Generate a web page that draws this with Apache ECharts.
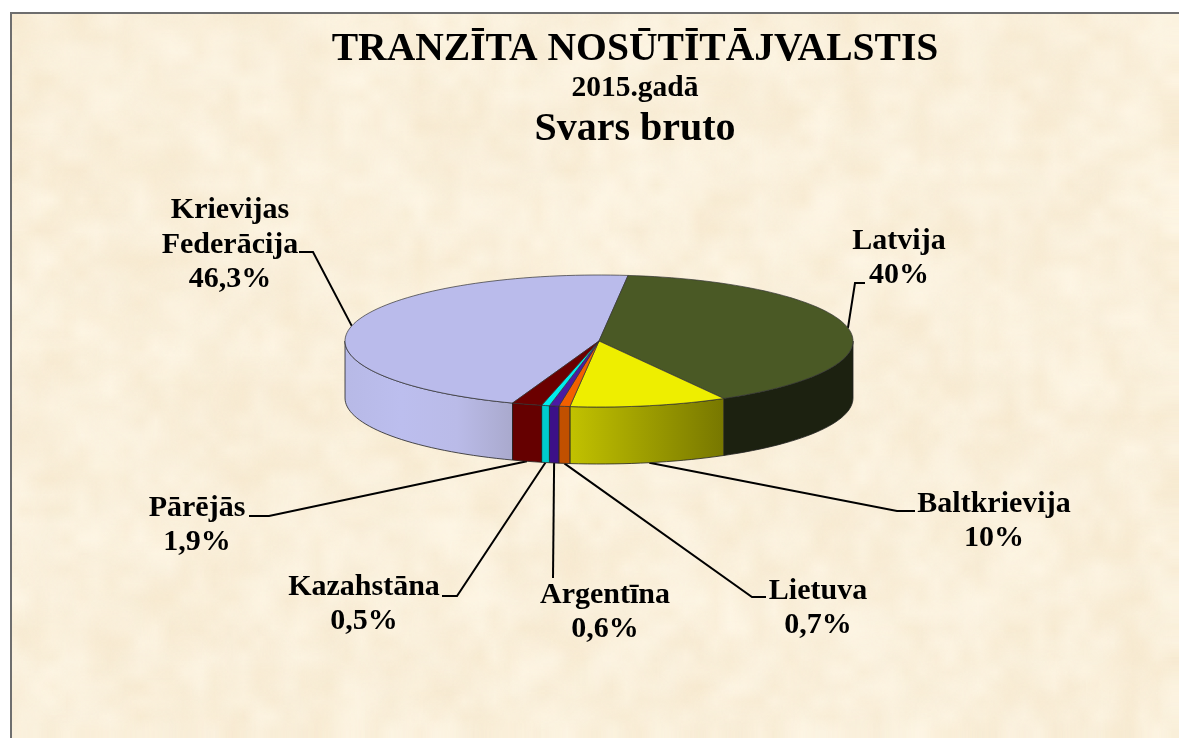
<!DOCTYPE html>
<html>
<head>
<meta charset="utf-8">
<style>html,body{margin:0;padding:0;background:#fff}#main{width:1179px;height:738px}</style>
<script src="https://cdn.jsdelivr.net/npm/echarts@6/dist/echarts.min.js"></script>
</head>
<body>
<div id="main"></div>
<script>
var categories = ['Krievijas Federācija', 'Latvija', 'Baltkrievija', 'Lietuva', 'Argentīna', 'Kazahstāna', 'Pārējās'];
var shares = [46.3, 40, 10, 0.7, 0.6, 0.5, 1.9];

// top colour, then side colours left to right
var palette = [
  {top: '#babbeb', side: ['#b7b9e6', '#bcbeee', '#babbe8', '#a9a9cd']},
  {top: '#4a5925', side: ['#1c2110', '#1c2110']},
  {top: '#eeee00', side: ['#c2c200', '#777700']},
  {top: '#f26000', side: ['#c25000', '#c05000']},
  {top: '#4b1ba3', side: ['#3c1088', '#3c1088']},
  {top: '#00eeee', side: ['#00cccc', '#00cccc']},
  {top: '#6b0000', side: ['#650000', '#650000']}
];

// label centre and leader elbow, same order as categories
var labelText = ['Krievijas\nFederācija', 'Latvija', 'Baltkrievija', 'Lietuva', 'Argentīna', 'Kazahstāna', 'Pārējās'];
var labelPos = [[230, 245], [899, 258], [994, 521], [818, 608], [605, 612], [364, 604], [197, 525]];
var leaders = [
  [[299, 252], [313, 252]],
  [[865, 283], [855, 283]],
  [[915, 511], [897, 511]],
  [[766, 597], [752, 597]],
  [[553, 578]],
  [[442, 596], [457, 596]],
  [[249, 516], [269, 516]]
];

// start is clockwise from the top of the ellipse
var pie = {cx: 599, cy: 341, rx: 254, ry: 66, depth: 57, start: 199.9};

function rim(deg, drop) {
  var a = deg * Math.PI / 180;
  return [pie.cx + pie.rx * Math.sin(a), pie.cy - pie.ry * Math.cos(a) + (drop || 0)];
}

function arc(from, to, drop) {
  var pts = [], n = Math.max(2, Math.ceil(Math.abs(to - from) / 2));
  for (var i = 0; i <= n; i++) pts.push(rim(from + (to - from) * i / n, drop));
  return pts;
}

function sliceFrom(i) {
  var from = pie.start;
  for (var k = 0; k < i; k++) from += shares[k] * 3.6;
  return from;
}

// blotchy paper, drawn small and scaled up
function paper() {
  var big = document.createElement('canvas');
  big.width = 1179; big.height = 738;
  var g = big.getContext('2d');
  g.fillStyle = '#faf0dc';
  g.fillRect(0, 0, 1179, 738);
  g.imageSmoothingEnabled = true;
  [[38, 24, 0.55], [80, 50, 0.4]].forEach(function (o, k) {
    var c = document.createElement('canvas');
    c.width = o[0]; c.height = o[1];
    var x = c.getContext('2d');
    for (var i = 0; i < o[0]; i++) for (var j = 0; j < o[1]; j++) {
      var h = Math.sin(i * 12.9898 + j * 78.233 + k * 37.7) * 43758.5453;
      h = h - Math.floor(h);
      x.fillStyle = h > 0.5 ? 'rgb(255,248,232)' : 'rgb(246,231,203)';
      x.globalAlpha = Math.abs(h - 0.5) * 2;
      x.fillRect(i, j, 1, 1);
    }
    g.globalAlpha = o[2];
    g.drawImage(c, 0, 0, 1179, 738);
  });
  g.globalAlpha = 1;
  return big;
}

var chart = echarts.init(document.getElementById('main'), null, {renderer: 'canvas'});

function renderSlice(params, api) {
  var i = api.value(0), from = sliceFrom(i);
  var to = from + api.value(1) * 3.6;
  var kids = [];
  var col = palette[i];
  // front wall: only the part facing the viewer
  var a = Math.max(from, 90), b = Math.min(to, 270);
  if (b <= a) { a = Math.max(from, 450); b = Math.min(to, 630); }
  if (b > a) {
    var stops = col.side.map(function (c, n) {
      return {offset: n / (col.side.length - 1), color: c};
    });
    kids.push({
      type: 'polygon',
      shape: {points: arc(a, b, 0).concat(arc(b, a, pie.depth))},
      style: {
        fill: new echarts.graphic.LinearGradient(0, 0, 1, 0, stops),
        stroke: '#222', lineWidth: 0.8
      }
    });
  }
  // top face
  kids.push({
    type: 'polygon',
    shape: {points: [[pie.cx, pie.cy]].concat(arc(from, to, 0))},
    style: {fill: col.top, stroke: '#333', lineWidth: 0.7}
  });
  return {type: 'group', children: kids};
}

function renderLabels(params, api) {
  var i = api.value(0);
  var mid = sliceFrom(i) + api.value(1) * 1.8;
  var c = Math.cos(mid * Math.PI / 180);
  var anchor = rim(mid, c < -0.05 ? pie.depth : 0);
  var pct = String(api.value(1)).replace('.', ',') + '%';
  return {
    type: 'group',
    children: [{
      type: 'polyline',
      shape: {points: leaders[i].concat([anchor])},
      style: {fill: null, stroke: '#000', lineWidth: 2}
    }, {
      type: 'text',
      style: {
        x: labelPos[i][0], y: labelPos[i][1],
        text: labelText[i] + '\n' + pct,
        align: 'center', verticalAlign: 'middle',
        font: 'bold 30px "Liberation Serif"',
        lineHeight: 34.5, fill: '#000'
      }
    }]
  };
}

var seriesData = categories.map(function (c, i) { return [i, shares[i]]; });

var titleFont = {fontFamily: 'Liberation Serif', fontWeight: 'bold', color: '#000'};

chart.setOption({
  animation: false,
  backgroundColor: '#ffffff',
  graphic: [
    {type: 'rect', z: -10, shape: {x: 11, y: 13, width: 1168, height: 725},
      style: {fill: {image: paper(), repeat: 'no-repeat'}}},
    {type: 'polyline', z: -9, shape: {points: [[11, 738], [11, 13], [1179, 13]]},
      style: {fill: null, stroke: '#6e6e6e', lineWidth: 2}}
  ],
  title: [
    {text: 'TRANZĪTA NOSŪTĪTĀJVALSTIS', left: 635, top: 30, padding: 0, textAlign: 'center',
      textStyle: Object.assign({fontSize: 39.6}, titleFont)},
    {text: '2015.gadā', left: 635, top: 73, padding: 0, textAlign: 'center',
      textStyle: Object.assign({fontSize: 29.5}, titleFont)},
    {text: 'Svars bruto', left: 635, top: 110, padding: 0, textAlign: 'center',
      textStyle: Object.assign({fontSize: 40}, titleFont)}
  ],
  series: [
    {type: 'custom', coordinateSystem: 'none', renderItem: renderSlice, data: seriesData, z: 2, silent: true},
    {type: 'custom', coordinateSystem: 'none', renderItem: renderLabels, data: seriesData, z: 1, silent: true}
  ]
});
</script>
</body>
</html>
